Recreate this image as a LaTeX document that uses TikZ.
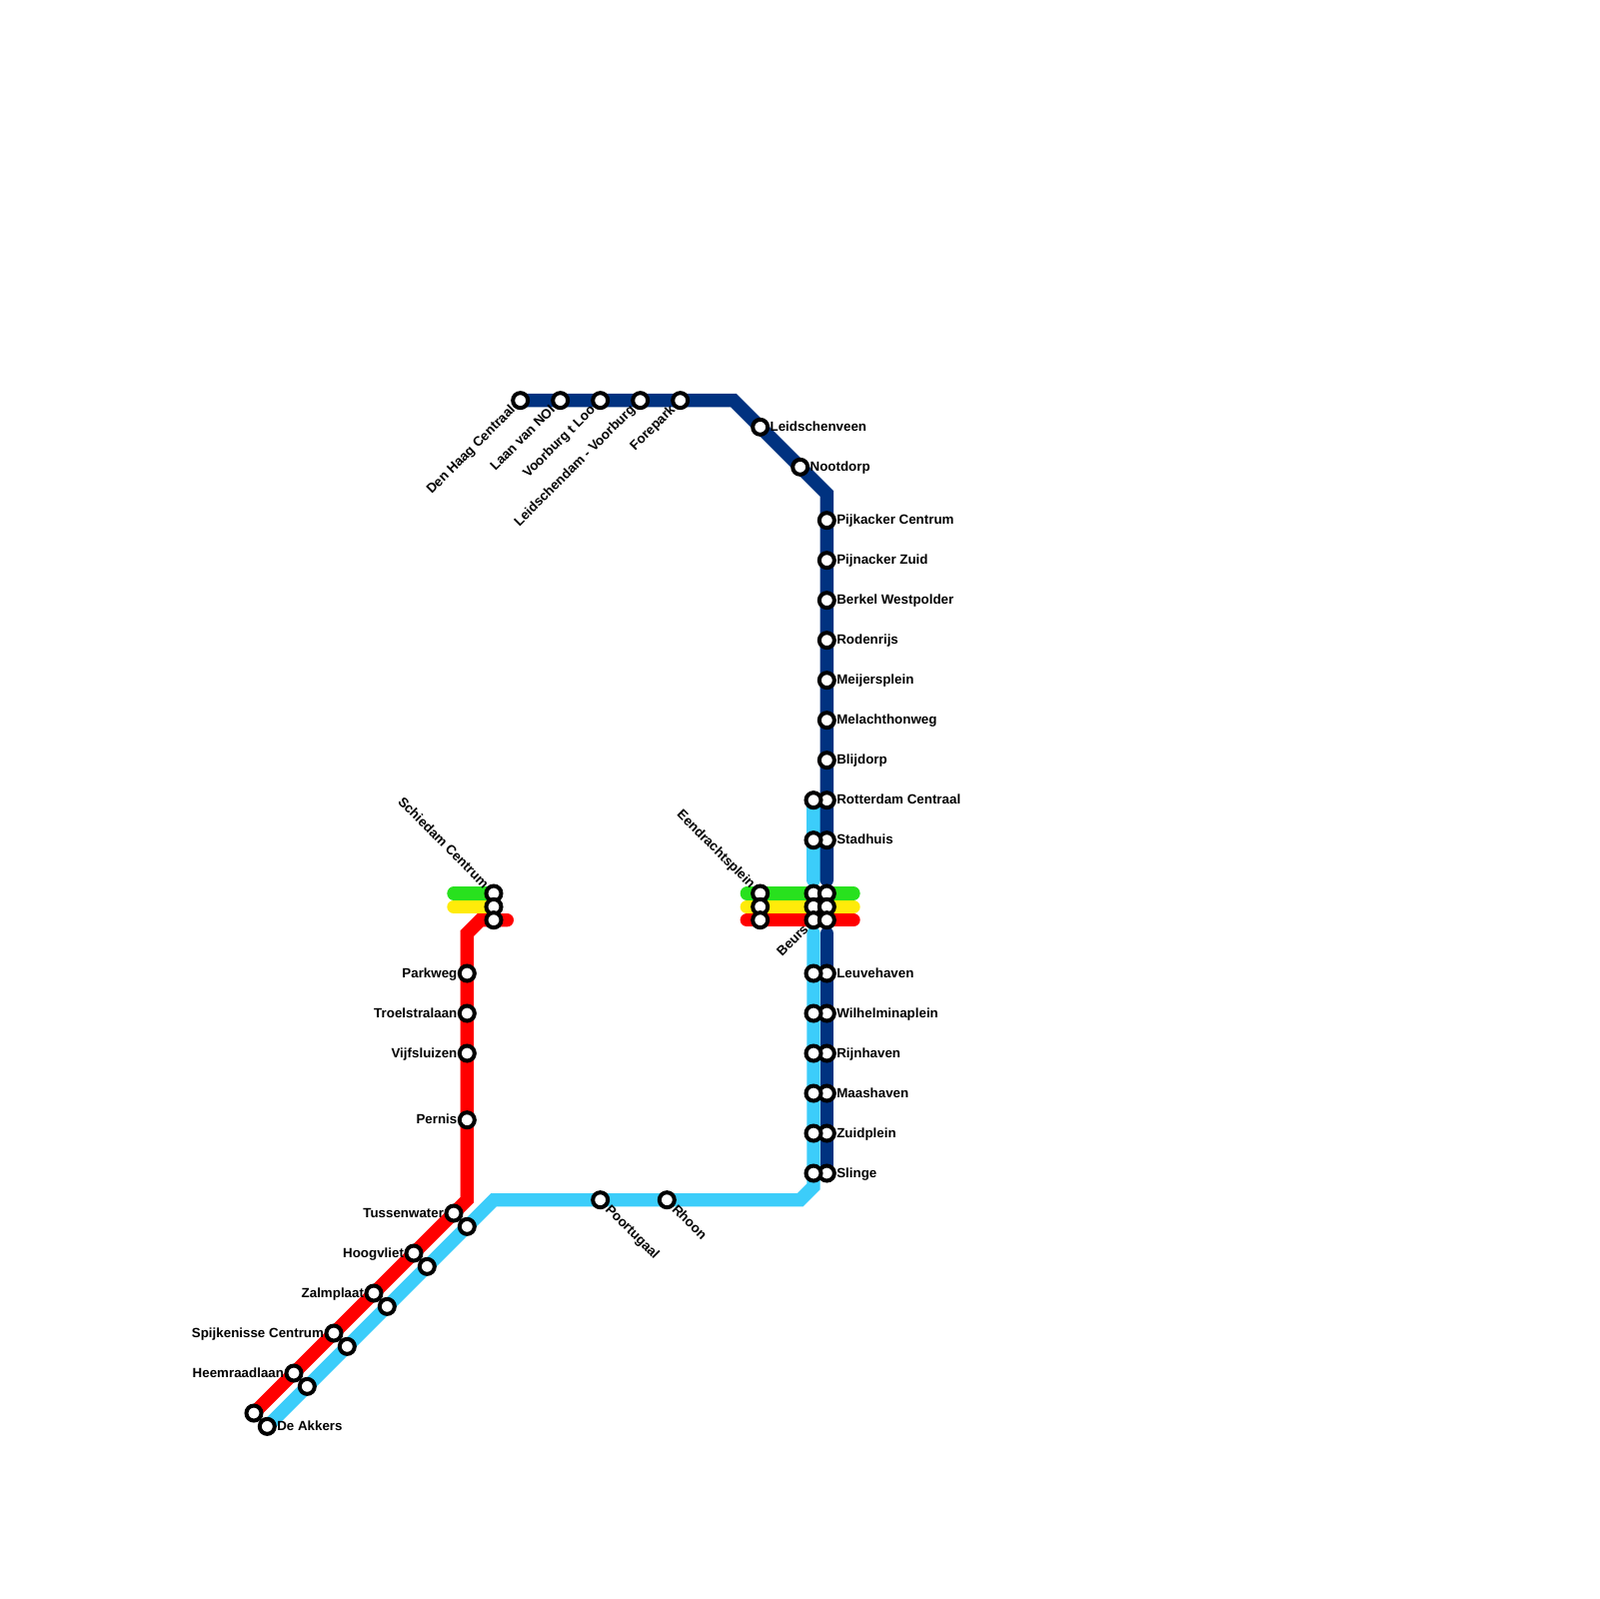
\documentclass[tikz,border=0pt]{standalone}
\usepackage{fontspec}
\setmainfont{Liberation Sans}
\usetikzlibrary{positioning,backgrounds}
\definecolor{navyline}{RGB}{0,50,128}
\definecolor{skyline}{RGB}{60,205,250}
\definecolor{redline}{RGB}{255,0,0}
\definecolor{yellowline}{RGB}{255,235,10}
\definecolor{greenline}{RGB}{40,225,30}
\tikzset{
  station/.style={circle, draw=black, fill=white, line width=0.6mm, minimum size=2.25mm, inner sep=0pt},
  metro/.style={line width=2mm, line cap=round},
  navymetro/.style={metro, navyline},
  skymetro/.style={metro, skyline},
  redmetro/.style={metro, redline},
  yellowmetro/.style={metro, yellowline},
  greenmetro/.style={metro, greenline},
  lbl/.style={font=\fontsize{5.7}{6}\selectfont\bfseries, inner sep=0pt, text height=3.5pt, text depth=0pt},
  lbldl/.style={lbl, rotate=45, anchor=east, xshift=-4.3pt},
  lblul/.style={lbl, rotate=-45, anchor=east, xshift=-4.3pt},
  lbldr/.style={lbl, rotate=-45, anchor=west, xshift=4.3pt},
}
\begin{document}
\begin{tikzpicture}[x=2mm,y=-2mm]
\useasboundingbox (-0.05,-0.05) rectangle (119.95,119.95);

\node[station] (den) at (39,30) {};
\node[station] (laan) at (42,30) {};
\node[station] (voorburg) at (45,30) {};
\node[station] (leidsch) at (48,30) {};
\node[station] (forepark) at (51,30) {};
\node[station] (veen) at (57,32) {};
\node[station] (nootdorp) at (60,35) {};
\node[station] (pijkacker) at (62,39) {};
\node[station] (pijnacker) at (62,42) {};
\node[station] (berkel) at (62,45) {};
\node[station] (rodenrijs) at (62,48) {};
\node[station] (meijers) at (62,51) {};
\node[station] (melanch) at (62,54) {};
\node[station] (blijdorp) at (62,57) {};
\node[station] (rotterdam) at (62,60) {};
\node[station] (stadhuis) at (62,63) {};
\node[station] (leuve) at (62,73) {};
\node[station] (wilhelm) at (62,76) {};
\node[station] (rijn) at (62,79) {};
\node[station] (maas) at (62,82) {};
\node[station] (zuidplein) at (62,85) {};
\node[station] (slinge) at (62,88) {};

\node[station] (rotterdamb) at (61,60) {};
\node[station] (stadhuisb) at (61,63) {};
\node[station] (leuveb) at (61,73) {};
\node[station] (wilhelmb) at (61,76) {};
\node[station] (rijnb) at (61,79) {};
\node[station] (maasb) at (61,82) {};
\node[station] (zuidpleinb) at (61,85) {};
\node[station] (slingeb) at (61,88) {};

\node[station] (eendg) at (57,67) {};
\node[station] (eendy) at (57,68) {};
\node[station] (eendr) at (57,69) {};
\node[station] (beursg) at (61,67) {};
\node[station] (beursy) at (61,68) {};
\node[station] (beursr) at (61,69) {};
\node[station] (beursgb) at (62,67) {};
\node[station] (beursyb) at (62,68) {};
\node[station] (beursrb) at (62,69) {};
\node[station] (schieg) at (37,67) {};
\node[station] (schiey) at (37,68) {};
\node[station] (schier) at (37,69) {};

\node[station] (parkweg) at (35,73) {};
\node[station] (troelstra) at (35,76) {};
\node[station] (vijf) at (35,79) {};
\node[station] (pernis) at (35,84) {};
\node[station] (tussen) at (34,91) {};
\node[station] (hoogvliet) at (31,94) {};
\node[station] (zalm) at (28,97) {};
\node[station] (spijk) at (25,100) {};
\node[station] (heem) at (22,103) {};
\node[station] (heemend) at (19,106) {};

\node[station] (tussenb) at (35,92) {};
\node[station] (hoogvlietb) at (32,95) {};
\node[station] (zalmb) at (29,98) {};
\node[station] (spijkb) at (26,101) {};
\node[station] (heemb) at (23,104) {};
\node[station] (akkers) at (20,107) {};
\node[station] (poort) at (45,90) {};
\node[station] (rhoon) at (50,90) {};

\coordinate (navya) at (55,30);
\coordinate (navyb) at (62,37);
\coordinate (navyc) at (62,66);
\coordinate (navyd) at (62,70);
\coordinate (skya) at (61,66);
\coordinate (skyb) at (61,70);
\coordinate (skyc) at (61,89);
\coordinate (skyd) at (60,90);
\coordinate (skye) at (37,90);
\coordinate (reda) at (35,90);
\coordinate (redb) at (35,70);
\coordinate (redc) at (36,69);
\coordinate (redd) at (38,69);
\coordinate (greena) at (34,67);
\coordinate (yellowa) at (34,68);
\coordinate (greenb) at (56,67);
\coordinate (greenc) at (64,67);
\coordinate (yellowb) at (56,68);
\coordinate (yellowc) at (64,68);
\coordinate (rede) at (56,69);
\coordinate (redf) at (64,69);

\begin{scope}[on background layer]
\draw[greenmetro] (greena) -- (schieg.center);
\draw[yellowmetro] (yellowa) -- (schiey.center);
\draw[greenmetro] (greenb) -- (greenc);
\draw[yellowmetro] (yellowb) -- (yellowc);
\draw[redmetro] (rede) -- (redf);
\draw[redmetro] (heemend.center) -- (reda) -- (redb) -- (redc) -- (redd);
\draw[skymetro] (rotterdamb.center) -- (skya);
\draw[skymetro] (skyb) -- (skyc) -- (skyd) -- (skye) -- (akkers.center);
\draw[navymetro] (den.center) -- (navya) -- (navyb) -- (navyc);
\draw[navymetro] (navyd) -- (slinge.center);
\end{scope}

\node[lbldl] (denlbl) at (den) {Den Haag Centraal};
\node[lbldl] (laanlbl) at (laan) {Laan van NOI};
\node[lbldl] (voorburglbl) at (voorburg) {Voorburg t Loo};
\node[lbldl] (leidschlbl) at (leidsch) {Leidschendam - Voorburg};
\node[lbldl] (forelbl) at (forepark) {Forepark};
\node[lbl, right=0pt of veen] (veenlbl) {Leidschenveen};
\node[lbl, right=0pt of nootdorp] (nootdorplbl) {Nootdorp};
\node[lbl, right=0pt of pijkacker] (pijkackerlbl) {Pijkacker Centrum};
\node[lbl, right=0pt of pijnacker] (pijnackerlbl) {Pijnacker Zuid};
\node[lbl, right=0pt of berkel] (berkellbl) {Berkel Westpolder};
\node[lbl, right=0pt of rodenrijs] (rodenrijslbl) {Rodenrijs};
\node[lbl, right=0pt of meijers] (meijerslbl) {Meijersplein};
\node[lbl, right=0pt of melanch] (melanchlbl) {Melachthonweg};
\node[lbl, right=0pt of blijdorp] (blijdorplbl) {Blijdorp};
\node[lbl, right=0pt of rotterdam] (rotterdamlbl) {Rotterdam Centraal};
\node[lbl, right=0pt of stadhuis] (stadhuislbl) {Stadhuis};
\node[lbl, right=0pt of leuve] (leuvelbl) {Leuvehaven};
\node[lbl, right=0pt of wilhelm] (wilhelmlbl) {Wilhelminaplein};
\node[lbl, right=0pt of rijn] (rijnlbl) {Rijnhaven};
\node[lbl, right=0pt of maas] (maaslbl) {Maashaven};
\node[lbl, right=0pt of zuidplein] (zuidpleinlbl) {Zuidplein};
\node[lbl, right=0pt of slinge] (slingelbl) {Slinge};
\node[lblul] (eendlbl) at (eendg) {Eendrachtsplein};
\node[lbldl] (beurslbl) at (beursr) {Beurs};
\node[lblul] (schielbl) at (schieg) {Schiedam Centrum};
\node[lbl, left=0pt of parkweg] (parkweglbl) {Parkweg};
\node[lbl, left=0pt of troelstra] (troelstralbl) {Troelstralaan};
\node[lbl, left=0pt of vijf] (vijflbl) {Vijfsluizen};
\node[lbl, left=0pt of pernis] (pernislbl) {Pernis};
\node[lbl, left=0pt of tussen] (tussenlbl) {Tussenwater};
\node[lbl, left=0pt of hoogvliet] (hoogvlietlbl) {Hoogvliet};
\node[lbl, left=0pt of zalm] (zalmlbl) {Zalmplaat};
\node[lbl, left=0pt of spijk] (spijklbl) {Spijkenisse Centrum};
\node[lbl, left=0pt of heem] (heemlbl) {Heemraadlaan};
\node[lbl, right=0pt of akkers] (akkerslbl) {De Akkers};
\node[lbldr] (poortlbl) at (poort) {Poortugaal};
\node[lbldr] (rhoonlbl) at (rhoon) {Rhoon};
\end{tikzpicture}
\end{document}
